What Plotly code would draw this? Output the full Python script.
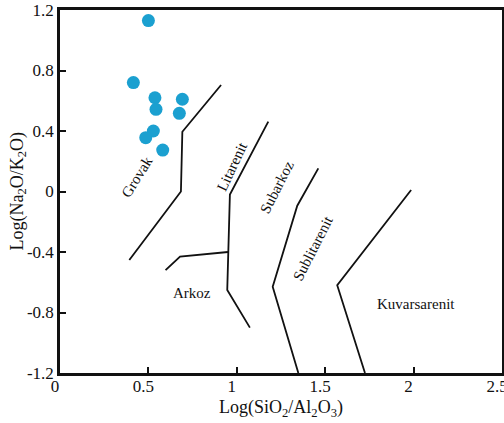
import plotly.graph_objects as go

# Sample data: Log(SiO2/Al2O3), Log(Na2O/K2O)
sample_x = [0.50, 0.415, 0.537, 0.543, 0.692, 0.675, 0.528, 0.485, 0.581]
sample_y = [1.13, 0.72, 0.62, 0.543, 0.61, 0.517, 0.40, 0.356, 0.274]

# Classification boundary lines
grovak_x = [0.911, 0.692, 0.684, 0.392]
grovak_y = [0.704, 0.395, 0.0, -0.453]

litarenit_x = [1.178, 0.961, 0.946, 1.074]
litarenit_y = [0.462, -0.02, -0.651, -0.90]

arkoz_x = [0.597, 0.679, 0.95]
arkoz_y = [-0.52, -0.43, -0.40]

subarkoz_x = [1.461, 1.342, 1.203, 1.348]
subarkoz_y = [0.153, -0.094, -0.63, -1.2]

sublit_x = [1.986, 1.568, 1.725]
sublit_y = [0.01, -0.62, -1.2]

# Region labels
label_text = ["Grovak", "Litarenit", "Subarkoz", "Sublitarenit", "Arkoz", "Kuvarsarenit"]
label_x = [0.434, 0.971, 1.226, 1.433, 0.745, 2.012]
label_y = [0.098, 0.164, 0.032, -0.376, -0.673, -0.744]
label_angle = [-58, -65, -63, -63, 0, 0]

x_ticks = [0, 0.5, 1, 1.5, 2, 2.5]
x_ticklabels = ["0", "0.5", "1", "1.5", "2", "2.5"]
y_ticks = [-1.2, -0.8, -0.4, 0, 0.4, 0.8, 1.2]
y_ticklabels = ["-1.2", "-0.8", "-0.4", "0", "0.4", "0.8", "1.2"]

x_title = "Log(SiO<sub>2</sub>/Al<sub>2</sub>O<sub>3</sub>)"
y_title = "Log(Na<sub>2</sub>O/K<sub>2</sub>O)"

FONT = "Liberation Serif"

fig = go.Figure()
for lx, ly in [(grovak_x, grovak_y), (litarenit_x, litarenit_y), (arkoz_x, arkoz_y),
               (subarkoz_x, subarkoz_y), (sublit_x, sublit_y)]:
    fig.add_trace(go.Scatter(x=lx, y=ly, mode="lines",
                             line=dict(color="#111111", width=1.8),
                             hoverinfo="skip", showlegend=False))

fig.add_trace(go.Scatter(x=sample_x, y=sample_y, mode="markers",
                         marker=dict(color="#1ba0d0", size=13, line=dict(width=0)),
                         showlegend=False))

for t, x, y, a in zip(label_text, label_x, label_y, label_angle):
    fig.add_annotation(x=x, y=y, text=t, textangle=a, showarrow=False,
                       font=dict(family=FONT, size=15, color="#111111"))

# y-axis title as annotation for exact placement
fig.add_annotation(xref="paper", yref="paper", x=0, y=0.5, xshift=-42,
                   text=y_title, textangle=-90, showarrow=False,
                   xanchor="center", yanchor="middle",
                   font=dict(family=FONT, size=18, color="#111111"))

fig.update_layout(
    width=504, height=423,
    margin=dict(l=60, r=2, t=10, b=50),
    plot_bgcolor="white", paper_bgcolor="white",
    font=dict(family=FONT, size=17, color="#111111"),
)
fig.update_xaxes(range=[0, 2.5], tickvals=x_ticks, ticktext=x_ticklabels,
                 ticks="inside", ticklen=6, tickwidth=1.5, tickcolor="#111111",
                 showline=True, linecolor="#111111", linewidth=2.5, mirror=True,
                 showgrid=False, zeroline=False,
                 tickfont=dict(family=FONT, size=17),
                 ticklabelstandoff=-4, ticklabelshift=-5, ticklabeloverflow="allow",
                 title=dict(text=x_title, font=dict(family=FONT, size=18), standoff=6),
                 automargin=False)
fig.update_yaxes(range=[-1.2, 1.2], tickvals=y_ticks, ticktext=y_ticklabels,
                 ticks="inside", ticklen=6, tickwidth=1.5, tickcolor="#111111",
                 showline=True, linecolor="#111111", linewidth=2.5, mirror=True,
                 showgrid=False, zeroline=False,
                 tickfont=dict(family=FONT, size=17),
                 automargin=False)

fig.write_html("out.html", config={"displayModeBar": False},
               post_script="document.body.style.margin='0';")
